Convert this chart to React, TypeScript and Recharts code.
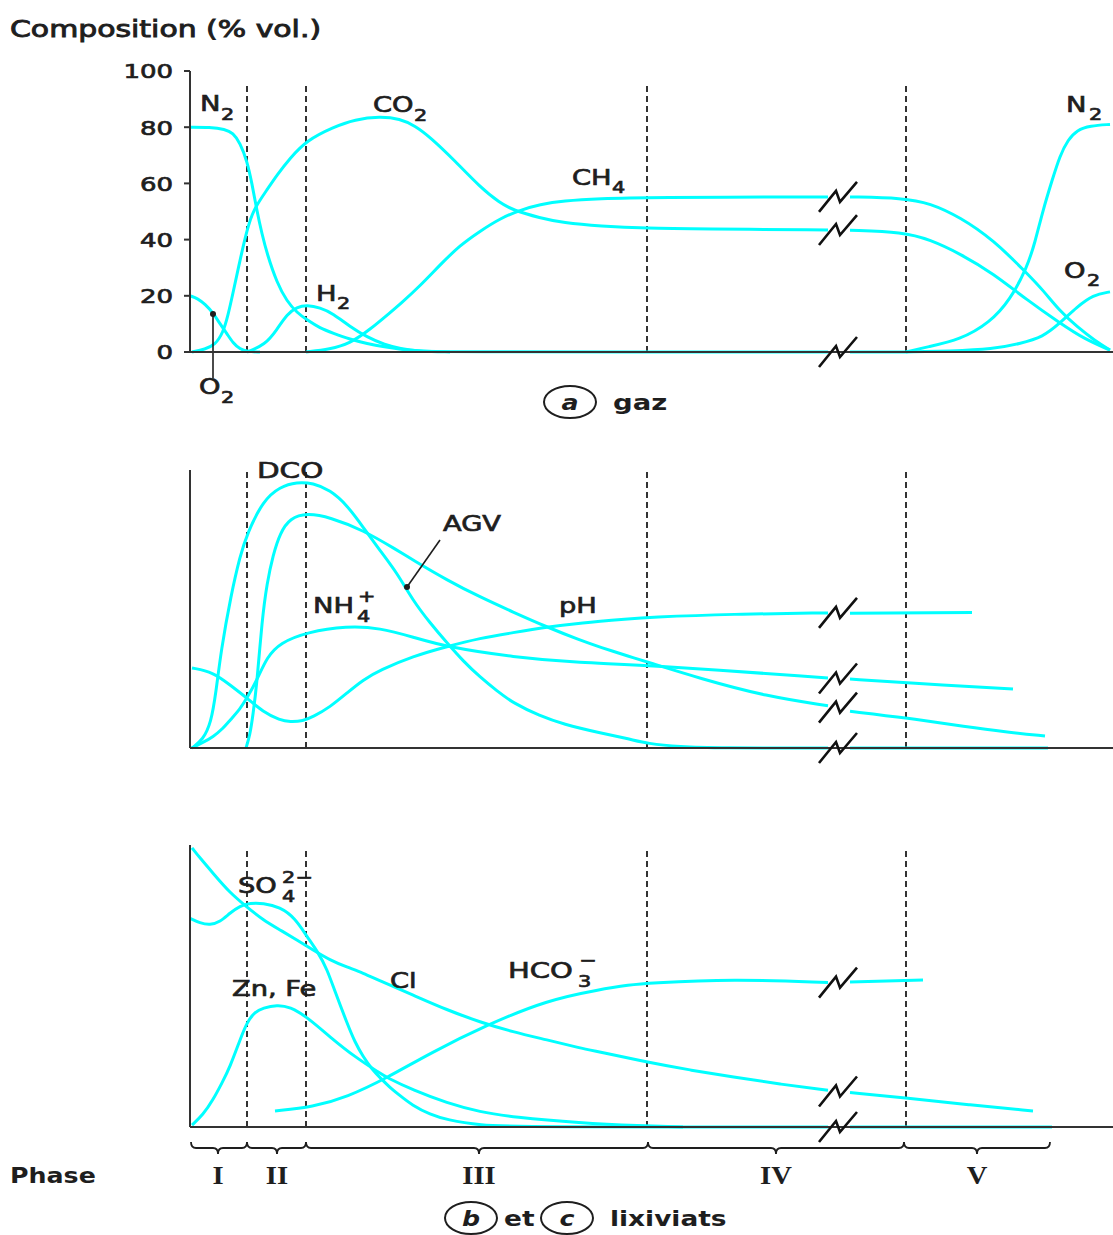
import React from 'react';
import { LineChart, Line, XAxis, YAxis, ReferenceLine, ReferenceDot } from 'recharts';

type P = [number, number | null];

// ---------- shared x (time, arbitrary units) ----------
const X_MAX = 923;
const BREAK_X = 648;
const PHASE_LINES = [57, 116, 457, 716];
const PHASE_BOUNDS = [1, 57, 116, 458, 714, 860];
const PHASE_CENTERS = [28, 87, 289, 586, 787];
const PHASE_LABELS = ['I', 'II', 'III', 'IV', 'V'];
const GAZ_TICKS = [0, 20, 40, 60, 80, 100];

// ---------- (a) gaz, % vol. ----------
const N2_START: P[] = [[0,80],[20,80],[35,79.3],[43,78],[50,74.5],[57,68],[62,60],[67,50],[72,42],[77,35],[87,24.5],[97,18],[107,14],[117,11.4],[130,8.5],[143,6.7],[160,4.5],[177,3],[195,1.8],[210,1],[230,0.3],[260,0]];
const O2_START: P[] = [[0,20],[8,19],[15,17],[23,14],[30,10],[37,6.5],[43,3.2],[50,1],[57,0.1],[70,0]];
const CO2: P[] = [[2,0],[15,1],[25,2.5],[33,6.8],[38,13],[43,21],[50,32.7],[57,43.4],[63,50.5],[77,57.7],[87,63],[100,69],[117,75.4],[143,80],[165,82.8],[190,83.8],[210,83],[225,80.5],[240,76.5],[265,68],[290,58.7],[310,53],[323,50.5],[350,47.7],[373,46],[410,44.8],[457,44],[510,43.8],[638,43.4],[648,null],[660,43.3],[713,42.7],[740,40],[770,35],[803,28],[837,18.5],[870,10.3],[895,4.5],[920,0.7]];
const CH4: P[] = [[116,0],[140,1],[160,3],[180,8],[200,14],[210,17],[230,23.5],[250,31],[270,38],[290,43],[310,47.5],[330,50.5],[350,52.5],[373,53.8],[410,54.6],[457,55],[638,55.2],[648,null],[660,55.2],[713,54.8],[740,53],[770,48],[803,40],[837,28],[853,22],[870,14.5],[887,9],[905,4],[920,0.7]];
const H2: P[] = [[57,0],[75,2.5],[87,8],[97,13.5],[107,16],[117,16.7],[130,15.8],[143,13.7],[160,9],[177,5.3],[195,2.5],[210,1.2],[230,0.3],[250,0],[638,0],[648,null],[660,0],[716,0]];
const N2_END: P[] = [[716,0],[737,1.8],[770,4.3],[800,10.5],[820,18.5],[837,30],[845,39],[853,50.5],[862,61],[870,70],[878,75.5],[887,79],[900,80.5],[920,81]];
const O2_END: P[] = [[716,0],[760,0.3],[803,1],[830,3],[853,5.3],[870,10.3],[887,16],[903,20.3],[920,21.4]];
const GAZ_BREAKS = [55.2, 43.4, 0];

// ---------- (b) lixiviats ----------
const AGV: P[] = [[2,0],[13,3],[21,9],[26,20],[31,35],[41,55],[50,69],[57,77],[73,89],[90,94],[107,95.7],[123,95.3],[140,92.8],[157,87.4],[173,79.5],[190,71],[207,63],[223,53],[240,45],[257,37.8],[273,31.3],[290,25.5],[307,20.5],[323,16.2],[350,11.5],[373,8.6],[410,5.4],[440,3.2],[457,1.6],[490,0.4],[527,0],[638,0],[648,null],[660,0],[858,0]];
const DCO: P[] = [[56,0],[60,4.7],[63,12],[67,23.4],[72,46],[77,59.4],[83,69.4],[90,77.3],[100,82.7],[117,84.5],[140,83],[173,78.4],[207,71.2],[223,67.6],[257,60.4],[290,54.3],[323,48.9],[357,43.5],[390,38.8],[410,36.3],[440,32.8],[457,31],[510,25],[577,18.5],[638,15.2],[648,null],[660,13.2],[717,10.8],[777,7.6],[815,5.8],[855,4.3]];
const NH4: P[] = [[2,0],[13,2],[23,4],[33,7],[40,10],[50,14],[57,18],[67,24.5],[77,32.7],[90,37.8],[117,41.7],[157,43.9],[190,43.2],[223,39.9],[257,36.3],[323,32.7],[390,30.6],[457,29.9],[638,25.2],[648,null],[660,24.8],[717,23.4],[823,21.2]];
const PH: P[] = [[2,28.8],[23,27.3],[40,22.7],[57,18],[73,13],[90,10],[100,9.4],[113,9.7],[123,11.2],[140,14.7],[157,19.8],[173,24.5],[190,28],[223,33],[257,36.5],[290,39.5],[323,41.5],[357,43.5],[390,45],[440,46.5],[457,47],[543,48.2],[638,48.6],[648,null],[660,48.5],[782,48.7]];
const LIX_B_BREAKS = [48.6, 25, 14.5, 0];

// ---------- (c) lixiviats ----------
const CL: P[] = [[2,99],[10,95.4],[23,90],[40,83],[57,78],[73,73.4],[90,69.9],[107,66.3],[123,62.8],[140,59.2],[157,56.7],[173,54.6],[190,51.8],[223,46.8],[257,41.5],[290,37.2],[323,33.7],[357,30.9],[390,28],[410,26.6],[457,23],[500,20.2],[543,17.7],[590,15.2],[638,13],[648,null],[660,12.2],[717,10.3],[780,7.8],[843,5.7]];
const SO4: P[] = [[0,74],[10,72.3],[20,71.6],[30,72.7],[40,75.9],[50,78.4],[60,79.4],[73,79.4],[90,78],[105,74.1],[117,67.5],[128,62],[137,56],[145,48],[157,36.9],[165,30],[173,25],[182,20.5],[190,17.5],[200,14],[207,12],[223,7.5],[240,4.5],[257,2.5],[290,0.6],[330,0],[638,0],[648,null],[660,0],[862,0]];
const ZN_FE: P[] = [[2,0.7],[13,4.3],[23,9.6],[32,15.6],[40,21.3],[50,30.9],[57,37.2],[65,40.8],[73,42.2],[87,43.3],[100,42.6],[117,39],[140,31.9],[165,24.8],[190,19.1],[197,17.5],[223,13.1],[257,8.5],[290,5.3],[323,3.5],[390,1.4],[450,0.4],[493,0]];
const HCO3: P[] = [[85,5.7],[123,7.1],[157,10.6],[197,17.4],[240,26.2],[297,36.2],[357,45],[410,48.8],[440,50.4],[457,51],[543,52.5],[638,51.2],[648,null],[660,51.4],[733,52.1]];
const LIX_C_BREAKS = [51.2, 12.6, 0];

// ---------- styles ----------
const CYAN = '#00FFFF';
const AXIS = '#333';
const INK = '#1e1e1e';
const FONT = "'DejaVu Sans', sans-serif";
const SERIF = "'Liberation Serif', 'DejaVu Serif', serif";
const W = 1113;

const toData = (pts: P[]) => pts.map(([x, y]) => ({ x, y }));

const series = (pts: P[], key: string) => (
  <Line
    key={key}
    data={toData(pts)}
    dataKey="y"
    type="basis"
    stroke={CYAN}
    strokeWidth={3}
    dot={false}
    activeDot={false}
    connectNulls={false}
    isAnimationActive={false}
  />
);

const BreakMark = (props: any) => {
  const { cx, cy } = props;
  return (
    <path
      d={`M${cx - 19},${cy + 15} L${cx - 2},${cy - 6} L${cx + 2},${cy + 5} L${cx + 19},${cy - 15}`}
      stroke="#111"
      strokeWidth={2.6}
      fill="none"
    />
  );
};

const breaks = (ys: number[], k: string) =>
  ys.map((y, i) => (
    <ReferenceDot key={k + i} x={BREAK_X} y={y} r={0} ifOverflow="visible" shape={(p: any) => <BreakMark {...p} />} />
  ));

const dashes = (top: number, k: string) =>
  PHASE_LINES.map((x, i) => (
    <ReferenceLine
      key={k + i}
      segment={[{ x, y: 0 }, { x, y: top }]}
      stroke={AXIS}
      strokeWidth={2}
      strokeDasharray="6 4"
    />
  ));

const YTick = (props: any) => {
  const { x, y, payload } = props;
  return (
    <text transform={`translate(${x},${y}) scale(1.3,1)`} textAnchor="end" dominantBaseline="central" fontSize={20} fontFamily={FONT} fill={INK} stroke={INK} strokeWidth={0.7}>
      {payload.value}
    </text>
  );
};

const PhaseTick = (props: any) => {
  const { x, y, payload } = props;
  const i = PHASE_CENTERS.indexOf(payload.value);
  if (i < 0) return null;
  const a = x - (PHASE_CENTERS[i] - PHASE_BOUNDS[i]);
  const b = x + (PHASE_BOUNDS[i + 1] - PHASE_CENTERS[i]);
  const yb = y + 21;
  const d = `M${a},${yb - 6} Q${a},${yb} ${a + 5},${yb} L${x - 5},${yb} Q${x},${yb} ${x},${yb + 6} Q${x},${yb} ${x + 5},${yb} L${b - 5},${yb} Q${b},${yb} ${b},${yb - 6}`;
  return (
    <g>
      <path d={d} stroke={INK} strokeWidth={1.8} fill="none" />
      <text transform={`translate(${x},${y + 57}) scale(1.1,1)`} textAnchor="middle" fontSize={26} fontWeight="bold" fontFamily={SERIF} fill={INK}>
        {PHASE_LABELS[i]}
      </text>
    </g>
  );
};

// medium-weight label: regular DejaVu with a thin outline, horizontally widened
const T = ({ x, y, children, size = 21, sx = 1.3, weight = 'normal', anchor = 'start', italic = false, sw = 0.7 }: any) => (
  <text
    transform={`translate(${x},${y}) scale(${sx},1)`}
    fontSize={size}
    fontFamily={FONT}
    fontWeight={weight}
    fontStyle={italic ? 'italic' : 'normal'}
    fill={INK}
    stroke={INK}
    strokeWidth={sw}
    textAnchor={anchor}
  >
    {children}
  </text>
);

const SUB = 16;

const Overlay = () => (
  <svg width={W} height={1235} style={{ position: 'absolute', left: 0, top: 0, pointerEvents: 'none' }}>
    <T x={10} y={37} size={23} sx={1.3} sw={0.9}>Composition (% vol.)</T>
    {/* gaz labels */}
    <T x={200} y={111}>N</T><T x={221} y={120} size={SUB}>2</T>
    <T x={373} y={112}>CO</T><T x={414} y={121} size={SUB}>2</T>
    <T x={572} y={185}>CH</T><T x={612} y={193} size={SUB}>4</T>
    <T x={316} y={301}>H</T><T x={337} y={309} size={SUB}>2</T>
    <T x={199} y={394}>O</T><T x={221} y={403} size={SUB}>2</T>
    <T x={1066} y={112}>N</T><T x={1089} y={120} size={SUB}>2</T>
    <T x={1064} y={278}>O</T><T x={1087} y={286} size={SUB}>2</T>
    {/* b labels */}
    <T x={257} y={478} sx={1.4}>DCO</T>
    <T x={443} y={531}>AGV</T>
    <T x={313} y={613}>NH</T><T x={357} y={622} size={SUB}>4</T><T x={358} y={602} size={SUB}>+</T>
    <T x={559} y={613}>pH</T>
    {/* c labels */}
    <T x={238} y={893}>SO</T><T x={282} y={902} size={SUB}>4</T><T x={282} y={883} size={SUB}>2−</T>
    <T x={232} y={996}>Zn, Fe</T>
    <T x={390} y={988}>Cl</T>
    <T x={508} y={978} sx={1.38}>HCO</T><T x={578} y={987} size={SUB}>3</T><T x={579} y={966} size={SUB}>−</T>
    {/* captions */}
    <ellipse cx={570} cy={402} rx={26} ry={16} fill="none" stroke={INK} strokeWidth={2} />
    <T x={570} y={410} size={22} sx={1.15} weight="bold" sw={0} italic anchor="middle">a</T>
    <T x={613} y={410} size={22} sx={1.25} weight="bold" sw={0}>gaz</T>
    <T x={10} y={1183} size={22} sx={1.15} weight="bold" sw={0}>Phase</T>
    <ellipse cx={471} cy={1218} rx={26} ry={16} fill="none" stroke={INK} strokeWidth={2} />
    <T x={471} y={1226} size={22} sx={1.15} weight="bold" sw={0} italic anchor="middle">b</T>
    <T x={504} y={1226} size={22} sx={1.2} weight="bold" sw={0}>et</T>
    <ellipse cx={567} cy={1218} rx={26} ry={16} fill="none" stroke={INK} strokeWidth={2} />
    <T x={567} y={1226} size={22} sx={1.15} weight="bold" sw={0} italic anchor="middle">c</T>
    <T x={610} y={1226} size={22} sx={1.2} weight="bold" sw={0}>lixiviats</T>
  </svg>
);

const xAxisCommon = {
  dataKey: 'x',
  type: 'number' as const,
  domain: [0, X_MAX],
  allowDataOverflow: true,
  axisLine: { stroke: AXIS, strokeWidth: 2 },
  tickLine: false,
};

export default function App() {
  return (
    <div style={{ position: 'absolute', left: 0, top: 0, width: W, height: 1235, background: '#fff', overflow: 'hidden' }}>
      {/* (a) gaz */}
      <div style={{ position: 'absolute', left: 0, top: 0 }}>
        <LineChart width={W} height={380} margin={{ top: 71, right: 0, bottom: 20, left: 0 }}>
          <XAxis {...xAxisCommon} height={8} tick={false} />
          <YAxis
            type="number"
            domain={[0, 100]}
            ticks={GAZ_TICKS}
            width={190}
            axisLine={{ stroke: AXIS, strokeWidth: 2 }}
            tickLine={{ stroke: AXIS, strokeWidth: 2 }}
            tickSize={6}
            tickMargin={11}
            tick={<YTick />}
            interval={0}
          />
          {dashes(95, 'ga')}
          {series(N2_START, 'n2s')}
          {series(O2_START, 'o2s')}
          {series(CO2, 'co2')}
          {series(CH4, 'ch4')}
          {series(H2, 'h2')}
          {series(N2_END, 'n2e')}
          {series(O2_END, 'o2e')}
          <ReferenceLine segment={[{ x: 23, y: 13.5 }, { x: 23, y: -9.3 }]} stroke={INK} strokeWidth={1.6} ifOverflow="visible" />
          <ReferenceDot x={23} y={13.5} r={3} fill={INK} stroke="none" ifOverflow="visible" />
          {breaks(GAZ_BREAKS, 'gb')}
        </LineChart>
      </div>

      {/* (b) lixiviats */}
      <div style={{ position: 'absolute', left: 0, top: 440 }}>
        <LineChart width={W} height={330} margin={{ top: 30, right: 0, bottom: 14, left: 0 }}>
          <XAxis {...xAxisCommon} height={8} tick={false} />
          <YAxis type="number" domain={[0, 100]} width={190} axisLine={{ stroke: AXIS, strokeWidth: 2 }} tickLine={false} tick={false} />
          {dashes(100, 'gb')}
          {series(AGV, 'agv')}
          {series(DCO, 'dco')}
          {series(NH4, 'nh4')}
          {series(PH, 'ph')}
          <ReferenceLine segment={[{ x: 217, y: 57.9 }, { x: 250, y: 74.8 }]} stroke={INK} strokeWidth={1.6} ifOverflow="visible" />
          <ReferenceDot x={217} y={57.9} r={3} fill={INK} stroke="none" ifOverflow="visible" />
          {breaks(LIX_B_BREAKS, 'bb')}
        </LineChart>
      </div>

      {/* (c) lixiviats */}
      <div style={{ position: 'absolute', left: 0, top: 820 }}>
        <LineChart width={W} height={400} margin={{ top: 25, right: 0, bottom: 13, left: 0 }}>
          <XAxis {...xAxisCommon} height={80} ticks={PHASE_CENTERS} interval={0} tickSize={0} tickMargin={0} tick={<PhaseTick />} />
          <YAxis type="number" domain={[0, 100]} width={190} axisLine={{ stroke: AXIS, strokeWidth: 2 }} tickLine={false} tick={false} />
          {dashes(99, 'gc')}
          {series(CL, 'cl')}
          {series(SO4, 'so4')}
          {series(ZN_FE, 'zn')}
          {series(HCO3, 'hco3')}
          {breaks(LIX_C_BREAKS, 'cb')}
        </LineChart>
      </div>

      <Overlay />
    </div>
  );
}
